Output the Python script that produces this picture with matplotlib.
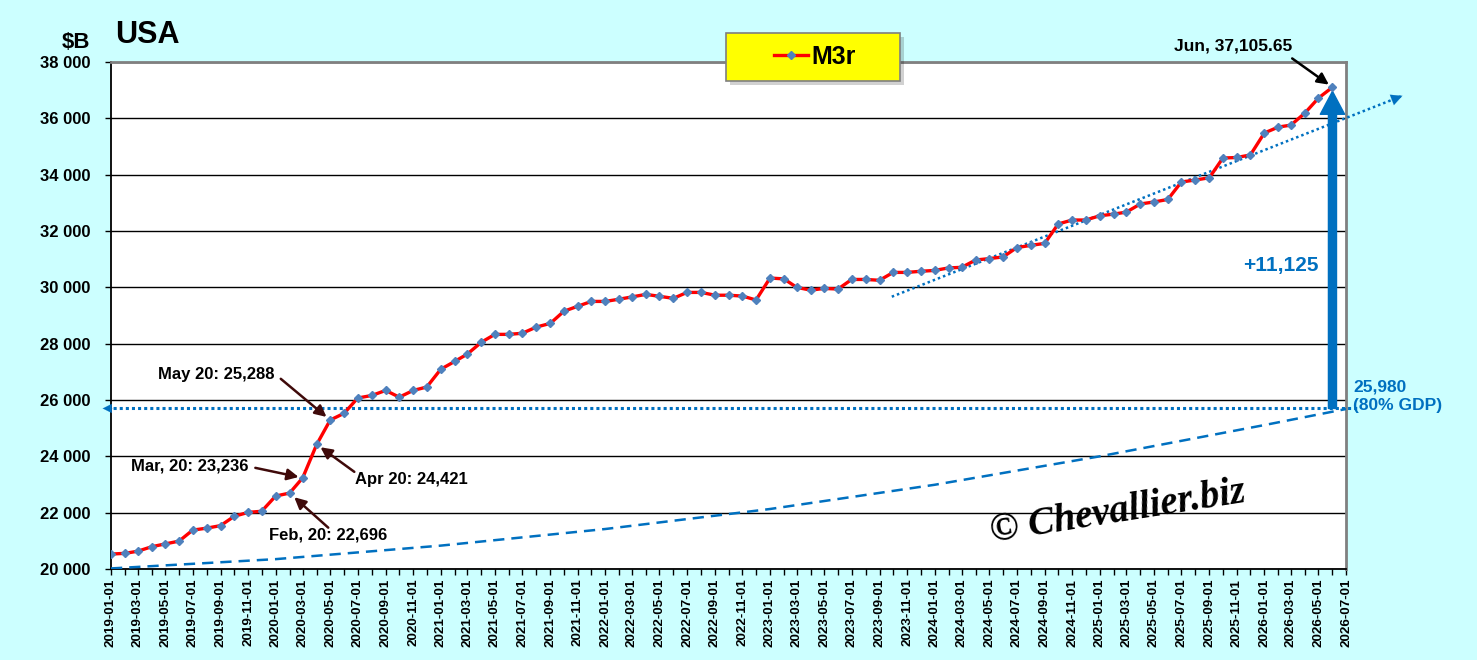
import matplotlib
matplotlib.use('Agg')
import matplotlib.pyplot as plt
import matplotlib.dates as mdates
import matplotlib.ticker as mticker
from matplotlib.patches import FancyArrowPatch, Rectangle
import pandas as pd

plt.rcParams['font.family'] = ['Liberation Sans', 'DejaVu Sans']

# ---------------- data ----------------
months = pd.date_range('2019-01-01', '2026-06-01', freq='MS')
m3r = [
    20530, 20556, 20630, 20790, 20890, 20990, 21380, 21450, 21540, 21870, 22010, 22050,   # 2019
    22590, 22696, 23236, 24421, 25288, 25530, 26070, 26160, 26340, 26100, 26340, 26460,   # 2020
    27090, 27370, 27630, 28050, 28330, 28330, 28370, 28590, 28720, 29150, 29330, 29500,   # 2021
    29500, 29580, 29660, 29750, 29680, 29610, 29820, 29820, 29720, 29720, 29690, 29550,   # 2022
    30330, 30300, 30000, 29900, 29960, 29940, 30280, 30280, 30250, 30530, 30530, 30570,   # 2023
    30600, 30690, 30710, 30970, 31020, 31080, 31410, 31490, 31560, 32250, 32390, 32390,   # 2024
    32540, 32600, 32670, 32960, 33030, 33120, 33740, 33810, 33890, 34590, 34610, 34700,   # 2025
    35480, 35690, 35760, 36190, 36720, 37105.65,                                          # 2026
]
series_name = 'M3r'

gdp_dates = pd.to_datetime(['2019-01-01', '2020-01-01', '2021-01-01', '2022-01-01', '2023-01-01',
                            '2024-01-01', '2025-01-01', '2026-01-01', '2026-07-01'])
gdp_line = [20020, 20350, 20830, 21420, 22130, 22990, 24000, 25110, 25680]

trend_dates = pd.to_datetime(['2023-09-28', '2026-11-03'])
trend_vals = [29667, 36800]

gdp_level = 25700
gdp_label = '25,980\n(80% GDP)'
increase_label = '+11,125'

annotations = [
    # label, date, value, text offset (pt), arrow tail offset (pt), shrink, color
    ('Feb, 20: 22,696', '2020-02-01', 22696, (27.4, -30.2), (27.8, -24.9), 4.5, '#3F0A0A'),
    ('Mar, 20: 23,236', '2020-03-01', 23236, (-81.1, 8.4), (-34.1, 7.2), 3.0, '#3F0A0A'),
    ('Apr 20: 24,421', '2020-04-01', 24421, (68.0, -25.3), (27.1, -19.7), 3.4, '#3F0A0A'),
    ('May 20: 25,288', '2020-05-01', 25288, (-82.4, 32.6), (-35.6, 29.7), 3.5, '#3F0A0A'),
    ('Jun, 37,105.65', '2026-06-01', 37105.65, (-71.8, 29.9), (-29.0, 20.7), 3.2, 'black'),
]

BLUE = '#0070C0'
MARK = '#4F81BD'

# ---------------- figure ----------------
fig = plt.figure(figsize=(14.77, 6.60), dpi=100, facecolor='#CCFFFF')
ax = fig.add_axes([111 / 1477, 91 / 660, 1235 / 1477, 507 / 660])
ax.set_facecolor('white')

ax.set_xlim(pd.Timestamp('2019-01-01'), pd.Timestamp('2026-07-01'))
ax.set_ylim(20000, 38000)

ax.yaxis.set_major_locator(mticker.MultipleLocator(2000))
ax.yaxis.set_major_formatter(mticker.FuncFormatter(lambda v, p: f'{int(v):,}'.replace(',', ' ')))
ax.grid(axis='y', color='black', lw=1.0, zorder=1)
ax.set_axisbelow(True)

ax.xaxis.set_major_locator(mdates.MonthLocator(bymonth=[1, 3, 5, 7, 9, 11]))
ax.xaxis.set_minor_locator(mdates.MonthLocator())
ax.xaxis.set_major_formatter(mdates.DateFormatter('%Y-%m-%d'))
ax.tick_params(axis='x', which='both', direction='out', length=4, width=1, color='black',
               labelsize=9.7, labelrotation=90, pad=3)
ax.tick_params(axis='y', direction='out', length=4, width=1, labelsize=12, pad=11)
for lab in ax.get_xticklabels() + ax.get_yticklabels():
    lab.set_fontweight('bold')

for s in ['left', 'bottom']:
    ax.spines[s].set_color('black')
    ax.spines[s].set_linewidth(1.3)
for s in ['top', 'right']:
    ax.spines[s].set_color('#808080')
    ax.spines[s].set_linewidth(2)

# 80% GDP dashed curve
ax.plot(gdp_dates, gdp_line, color=BLUE, lw=1.8, dashes=(4.5, 2.8), zorder=3)

# horizontal dotted level line
ytr = ax.get_yaxis_transform()
ax.plot([-0.003, 1.009], [gdp_level, gdp_level], transform=ytr, color=BLUE, lw=2.2,
        linestyle=(0, (1, 1)), clip_on=False, zorder=3)
ax.annotate('', xy=(-0.0068, gdp_level), xytext=(0.002, gdp_level), xycoords=ytr, textcoords=ytr,
            arrowprops=dict(arrowstyle='-|>,head_length=0.5,head_width=0.25', color=BLUE, lw=0.1,
                            mutation_scale=13, shrinkA=0, shrinkB=0), annotation_clip=False)

# trend dotted line with arrow
ax.plot(trend_dates, trend_vals, color=BLUE, lw=1.8, linestyle=(0, (1, 1.2)), clip_on=False, zorder=3)
t0, t1 = trend_dates
pre_date = t0 + (t1 - t0) * 0.97
pre_val = trend_vals[0] + (trend_vals[1] - trend_vals[0]) * 0.97
ax.annotate('', xy=(t1, trend_vals[1]), xytext=(pre_date, pre_val),
            arrowprops=dict(arrowstyle='-|>,head_length=0.5,head_width=0.25', color=BLUE, lw=0.1,
                            mutation_scale=16, shrinkA=0, shrinkB=0), annotation_clip=False)

# main series
line, = ax.plot(months, m3r, color='#FF0000', lw=2.4, marker='D', markersize=4.2,
                markerfacecolor=MARK, markeredgecolor=MARK, zorder=5, label=series_name)

# big increase arrow
last_date, last_val = months[-1], m3r[-1]
big = FancyArrowPatch((last_date, gdp_level), (last_date, last_val),
                      arrowstyle='simple,head_length=16.5,head_width=17.5,tail_width=5.8',
                      mutation_scale=1, color=BLUE, shrinkA=0, shrinkB=3, zorder=4)
ax.add_patch(big)
ax.annotate(increase_label, xy=(last_date, (gdp_level + last_val) / 2), xytext=(-37, -13),
            textcoords='offset points', ha='center', va='center', fontsize=15,
            fontweight='bold', color=BLUE)

# level label
ax.annotate(gdp_label, xy=(1.0, gdp_level), xycoords=ytr, xytext=(5, 8.5),
            textcoords='offset points', ha='left', va='center', fontsize=12.5,
            fontweight='bold', color=BLUE, linespacing=1.3, annotation_clip=False)

# point annotations
for label, d, v, toff, aoff, shr, col in annotations:
    dd = pd.Timestamp(d)
    ax.annotate('', xy=(dd, v), xytext=aoff, textcoords='offset points',
                arrowprops=dict(arrowstyle='-|>', color=col, lw=1.8, mutation_scale=17,
                                shrinkA=0, shrinkB=shr), zorder=6, annotation_clip=False)
    ax.annotate(label, xy=(dd, v), xytext=toff, textcoords='offset points', ha='center',
                va='center', fontsize=12 if col != 'black' else 12.5, fontweight='bold',
                color='black', zorder=6, annotation_clip=False)

# watermark
ax.text(0.8154, 0.112, '\u00a9 Chevallier.biz', transform=ax.transAxes, ha='center', va='center',
        fontsize=28, family=['Liberation Serif', 'DejaVu Serif'], style='italic',
        fontweight='bold', rotation=9, color='black', zorder=2)

# titles
fig.text(115 / 1477, 1 - 35 / 660, 'USA', ha='left', va='center', fontsize=22, fontweight='bold')
fig.text(76 / 1477, 1 - 42 / 660, '$B', ha='center', va='center', fontsize=16, fontweight='bold')

# legend box
bx0, by0, bw, bh = 726 / 1477, 1 - 81 / 660, 174 / 1477, 48 / 660
fig.patches.append(Rectangle((bx0 + 4 / 1477, by0 - 4 / 660), bw, bh, transform=fig.transFigure,
                             facecolor='#000000', alpha=0.18, edgecolor='none', zorder=3.8))
fig.patches.append(Rectangle((bx0, by0), bw, bh, transform=fig.transFigure,
                             facecolor='#FFFF00', edgecolor='#7F7F7F', lw=1.2, zorder=4))
leg = fig.legend(handles=[line], loc='center', bbox_to_anchor=(815 / 1477, 1 - 57 / 660),
                 frameon=False, prop=dict(size=18, weight='bold'), handlelength=1.36,
                 handletextpad=0.15, borderpad=0.2)
leg.set_zorder(5)

fig.savefig('out.png', dpi=100, facecolor=fig.get_facecolor())
